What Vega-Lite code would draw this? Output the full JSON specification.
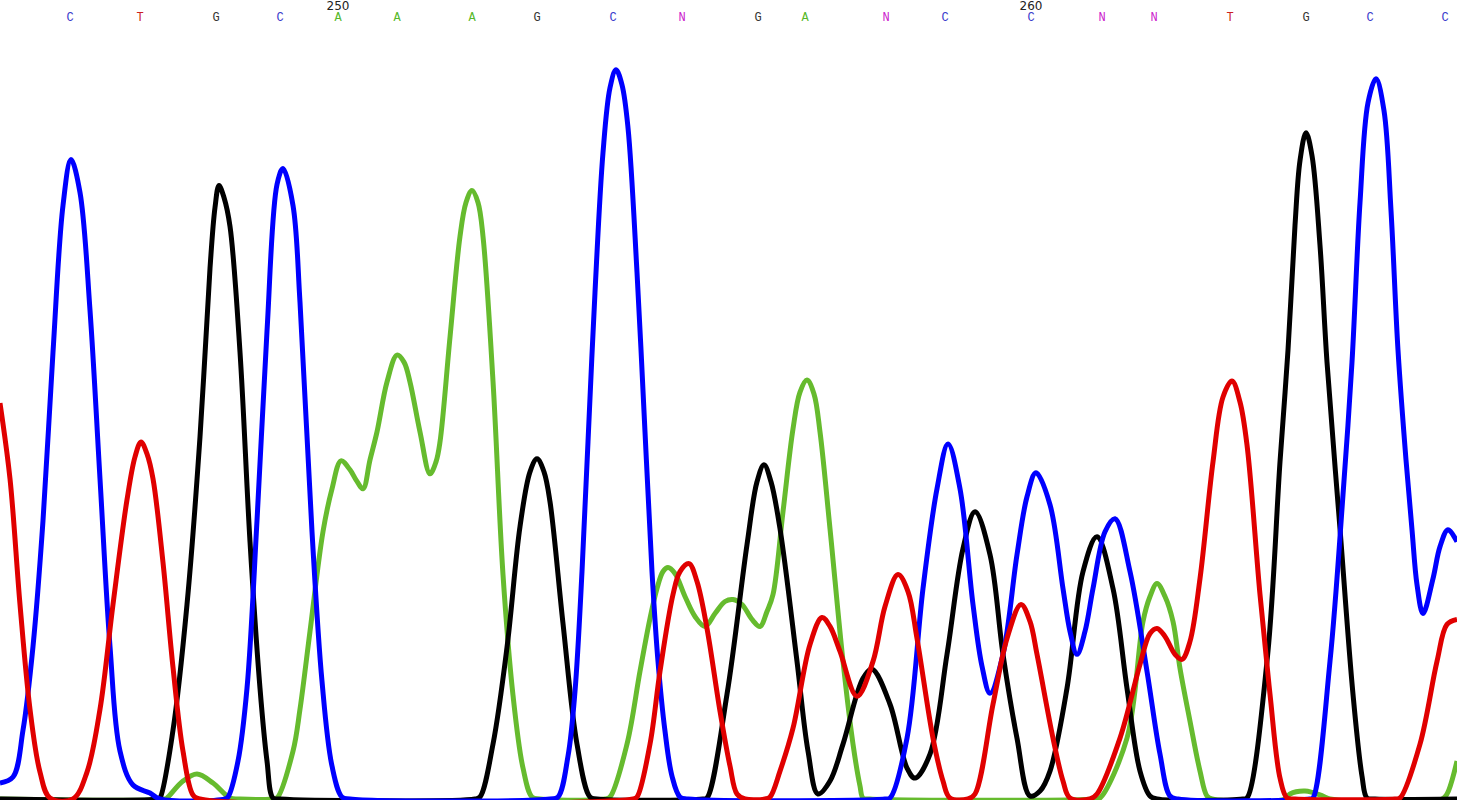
{
"$schema":"https://vega.github.io/schema/vega-lite/v6.json",
"width":1457,"height":800,
"autosize":{"type":"fit","contains":"padding"},
"padding":0,
"background":"white",
"config":{"view":{"stroke":null}},
"datasets":{
"traces":[
{"base":"A","pos":0,"signal":0},{"base":"A","pos":165,"signal":0},{"base":"A","pos":167,"signal":1},{"base":"A","pos":183,"signal":18},{"base":"A","pos":197,"signal":25},{"base":"A","pos":213,"signal":16},{"base":"A","pos":230,"signal":1},{"base":"A","pos":240,"signal":0},{"base":"A","pos":272,"signal":0},{"base":"A","pos":277,"signal":1},{"base":"A","pos":293,"signal":48},{"base":"A","pos":300,"signal":90},{"base":"A","pos":310,"signal":168},{"base":"A","pos":323,"signal":268},{"base":"A","pos":332,"signal":311},{"base":"A","pos":341,"signal":339},{"base":"A","pos":350,"signal":330},{"base":"A","pos":356,"signal":320},{"base":"A","pos":363,"signal":311},{"base":"A","pos":370,"signal":340},{"base":"A","pos":377,"signal":368},{"base":"A","pos":387,"signal":418},{"base":"A","pos":397,"signal":445},{"base":"A","pos":404,"signal":438},{"base":"A","pos":410,"signal":418},{"base":"A","pos":420,"signal":368},{"base":"A","pos":430,"signal":326},{"base":"A","pos":436,"signal":338},{"base":"A","pos":440,"signal":358},{"base":"A","pos":450,"signal":463},{"base":"A","pos":460,"signal":564},{"base":"A","pos":466,"signal":598},{"base":"A","pos":472,"signal":610},{"base":"A","pos":478,"signal":598},{"base":"A","pos":483,"signal":564},{"base":"A","pos":493,"signal":419},{"base":"A","pos":503,"signal":225},{"base":"A","pos":513,"signal":104},{"base":"A","pos":523,"signal":31},{"base":"A","pos":532,"signal":2},{"base":"A","pos":540,"signal":0},{"base":"A","pos":605,"signal":0},{"base":"A","pos":610,"signal":2},{"base":"A","pos":627,"signal":55},{"base":"A","pos":640,"signal":128},{"base":"A","pos":650,"signal":181},{"base":"A","pos":657,"signal":211},{"base":"A","pos":663,"signal":228},{"base":"A","pos":668,"signal":232},{"base":"A","pos":675,"signal":226},{"base":"A","pos":685,"signal":203},{"base":"A","pos":695,"signal":183},{"base":"A","pos":705,"signal":173},{"base":"A","pos":715,"signal":186},{"base":"A","pos":725,"signal":198},{"base":"A","pos":733,"signal":200},{"base":"A","pos":742,"signal":195},{"base":"A","pos":752,"signal":180},{"base":"A","pos":760,"signal":173},{"base":"A","pos":767,"signal":188},{"base":"A","pos":773,"signal":205},{"base":"A","pos":783,"signal":288},{"base":"A","pos":793,"signal":371},{"base":"A","pos":800,"signal":408},{"base":"A","pos":807,"signal":420},{"base":"A","pos":814,"signal":406},{"base":"A","pos":820,"signal":368},{"base":"A","pos":830,"signal":271},{"base":"A","pos":843,"signal":138},{"base":"A","pos":853,"signal":55},{"base":"A","pos":860,"signal":13},{"base":"A","pos":863,"signal":1},{"base":"A","pos":870,"signal":0},{"base":"A","pos":1095,"signal":0},{"base":"A","pos":1100,"signal":1},{"base":"A","pos":1127,"signal":61},{"base":"A","pos":1143,"signal":178},{"base":"A","pos":1150,"signal":203},{"base":"A","pos":1157,"signal":216},{"base":"A","pos":1165,"signal":203},{"base":"A","pos":1173,"signal":178},{"base":"A","pos":1180,"signal":131},{"base":"A","pos":1190,"signal":78},{"base":"A","pos":1200,"signal":28},{"base":"A","pos":1207,"signal":3},{"base":"A","pos":1212,"signal":0},{"base":"A","pos":1285,"signal":0},{"base":"A","pos":1290,"signal":5},{"base":"A","pos":1305,"signal":8},{"base":"A","pos":1323,"signal":3},{"base":"A","pos":1330,"signal":0},{"base":"A","pos":1442,"signal":0},{"base":"A","pos":1447,"signal":5},{"base":"A","pos":1457,"signal":38},
{"base":"G","pos":0,"signal":0},{"base":"G","pos":158,"signal":0},{"base":"G","pos":160,"signal":1},{"base":"G","pos":173,"signal":69},{"base":"G","pos":187,"signal":195},{"base":"G","pos":200,"signal":363},{"base":"G","pos":210,"signal":532},{"base":"G","pos":215,"signal":593},{"base":"G","pos":219,"signal":615},{"base":"G","pos":224,"signal":603},{"base":"G","pos":230,"signal":574},{"base":"G","pos":240,"signal":448},{"base":"G","pos":250,"signal":258},{"base":"G","pos":260,"signal":111},{"base":"G","pos":267,"signal":38},{"base":"G","pos":273,"signal":1},{"base":"G","pos":280,"signal":0},{"base":"G","pos":475,"signal":0},{"base":"G","pos":480,"signal":2},{"base":"G","pos":493,"signal":55},{"base":"G","pos":507,"signal":152},{"base":"G","pos":520,"signal":273},{"base":"G","pos":530,"signal":328},{"base":"G","pos":537,"signal":341},{"base":"G","pos":544,"signal":328},{"base":"G","pos":550,"signal":298},{"base":"G","pos":563,"signal":176},{"base":"G","pos":577,"signal":55},{"base":"G","pos":590,"signal":2},{"base":"G","pos":597,"signal":0},{"base":"G","pos":703,"signal":0},{"base":"G","pos":707,"signal":1},{"base":"G","pos":727,"signal":105},{"base":"G","pos":747,"signal":255},{"base":"G","pos":757,"signal":318},{"base":"G","pos":764,"signal":335},{"base":"G","pos":771,"signal":318},{"base":"G","pos":780,"signal":271},{"base":"G","pos":797,"signal":138},{"base":"G","pos":808,"signal":48},{"base":"G","pos":818,"signal":5},{"base":"G","pos":830,"signal":18},{"base":"G","pos":843,"signal":55},{"base":"G","pos":863,"signal":121},{"base":"G","pos":872,"signal":130},{"base":"G","pos":890,"signal":95},{"base":"G","pos":907,"signal":31},{"base":"G","pos":915,"signal":21},{"base":"G","pos":930,"signal":45},{"base":"G","pos":947,"signal":145},{"base":"G","pos":963,"signal":251},{"base":"G","pos":975,"signal":288},{"base":"G","pos":990,"signal":245},{"base":"G","pos":1003,"signal":145},{"base":"G","pos":1017,"signal":61},{"base":"G","pos":1030,"signal":3},{"base":"G","pos":1040,"signal":8},{"base":"G","pos":1050,"signal":28},{"base":"G","pos":1067,"signal":111},{"base":"G","pos":1083,"signal":228},{"base":"G","pos":1097,"signal":263},{"base":"G","pos":1113,"signal":211},{"base":"G","pos":1127,"signal":111},{"base":"G","pos":1140,"signal":28},{"base":"G","pos":1150,"signal":3},{"base":"G","pos":1157,"signal":0},{"base":"G","pos":1243,"signal":0},{"base":"G","pos":1247,"signal":1},{"base":"G","pos":1267,"signal":138},{"base":"G","pos":1280,"signal":338},{"base":"G","pos":1288,"signal":450},{"base":"G","pos":1295,"signal":575},{"base":"G","pos":1300,"signal":640},{"base":"G","pos":1306,"signal":668},{"base":"G","pos":1312,"signal":645},{"base":"G","pos":1320,"signal":555},{"base":"G","pos":1327,"signal":438},{"base":"G","pos":1340,"signal":271},{"base":"G","pos":1353,"signal":105},{"base":"G","pos":1362,"signal":23},{"base":"G","pos":1367,"signal":1},{"base":"G","pos":1375,"signal":0},{"base":"G","pos":1457,"signal":0},
{"base":"C","pos":0,"signal":16},{"base":"C","pos":13,"signal":22},{"base":"C","pos":23,"signal":69},{"base":"C","pos":33,"signal":153},{"base":"C","pos":43,"signal":279},{"base":"C","pos":53,"signal":448},{"base":"C","pos":63,"signal":595},{"base":"C","pos":71,"signal":641},{"base":"C","pos":80,"signal":608},{"base":"C","pos":90,"signal":490},{"base":"C","pos":100,"signal":321},{"base":"C","pos":110,"signal":153},{"base":"C","pos":120,"signal":48},{"base":"C","pos":133,"signal":14},{"base":"C","pos":150,"signal":6},{"base":"C","pos":160,"signal":0},{"base":"C","pos":225,"signal":0},{"base":"C","pos":228,"signal":2},{"base":"C","pos":238,"signal":38},{"base":"C","pos":247,"signal":111},{"base":"C","pos":257,"signal":279},{"base":"C","pos":267,"signal":469},{"base":"C","pos":277,"signal":616},{"base":"C","pos":283,"signal":632},{"base":"C","pos":293,"signal":595},{"base":"C","pos":300,"signal":498},{"base":"C","pos":312,"signal":268},{"base":"C","pos":322,"signal":118},{"base":"C","pos":332,"signal":33},{"base":"C","pos":342,"signal":2},{"base":"C","pos":350,"signal":0},{"base":"C","pos":550,"signal":0},{"base":"C","pos":558,"signal":2},{"base":"C","pos":568,"signal":43},{"base":"C","pos":575,"signal":108},{"base":"C","pos":582,"signal":228},{"base":"C","pos":588,"signal":358},{"base":"C","pos":595,"signal":508},{"base":"C","pos":603,"signal":648},{"base":"C","pos":610,"signal":713},{"base":"C","pos":616,"signal":731},{"base":"C","pos":622,"signal":716},{"base":"C","pos":628,"signal":673},{"base":"C","pos":637,"signal":528},{"base":"C","pos":645,"signal":368},{"base":"C","pos":652,"signal":228},{"base":"C","pos":658,"signal":138},{"base":"C","pos":665,"signal":68},{"base":"C","pos":672,"signal":23},{"base":"C","pos":680,"signal":2},{"base":"C","pos":688,"signal":0},{"base":"C","pos":885,"signal":0},{"base":"C","pos":890,"signal":1},{"base":"C","pos":907,"signal":61},{"base":"C","pos":923,"signal":211},{"base":"C","pos":937,"signal":311},{"base":"C","pos":948,"signal":356},{"base":"C","pos":960,"signal":311},{"base":"C","pos":973,"signal":195},{"base":"C","pos":982,"signal":133},{"base":"C","pos":990,"signal":106},{"base":"C","pos":1003,"signal":145},{"base":"C","pos":1017,"signal":245},{"base":"C","pos":1027,"signal":303},{"base":"C","pos":1036,"signal":327},{"base":"C","pos":1050,"signal":295},{"base":"C","pos":1063,"signal":211},{"base":"C","pos":1070,"signal":168},{"base":"C","pos":1077,"signal":145},{"base":"C","pos":1085,"signal":168},{"base":"C","pos":1093,"signal":211},{"base":"C","pos":1105,"signal":268},{"base":"C","pos":1115,"signal":281},{"base":"C","pos":1130,"signal":228},{"base":"C","pos":1147,"signal":128},{"base":"C","pos":1160,"signal":45},{"base":"C","pos":1170,"signal":3},{"base":"C","pos":1178,"signal":0},{"base":"C","pos":1310,"signal":0},{"base":"C","pos":1313,"signal":1},{"base":"C","pos":1330,"signal":138},{"base":"C","pos":1343,"signal":305},{"base":"C","pos":1352,"signal":438},{"base":"C","pos":1360,"signal":598},{"base":"C","pos":1368,"signal":698},{"base":"C","pos":1376,"signal":722},{"base":"C","pos":1384,"signal":690},{"base":"C","pos":1391,"signal":590},{"base":"C","pos":1398,"signal":450},{"base":"C","pos":1406,"signal":340},{"base":"C","pos":1412,"signal":270},{"base":"C","pos":1417,"signal":215},{"base":"C","pos":1423,"signal":186},{"base":"C","pos":1433,"signal":221},{"base":"C","pos":1440,"signal":253},{"base":"C","pos":1448,"signal":270},{"base":"C","pos":1457,"signal":258},
{"base":"T","pos":0,"signal":397},{"base":"T","pos":10,"signal":321},{"base":"T","pos":20,"signal":195},{"base":"T","pos":30,"signal":90},{"base":"T","pos":40,"signal":27},{"base":"T","pos":50,"signal":1},{"base":"T","pos":73,"signal":0},{"base":"T","pos":87,"signal":27},{"base":"T","pos":100,"signal":90},{"base":"T","pos":113,"signal":195},{"base":"T","pos":127,"signal":300},{"base":"T","pos":135,"signal":343},{"base":"T","pos":141,"signal":358},{"base":"T","pos":147,"signal":346},{"base":"T","pos":153,"signal":321},{"base":"T","pos":163,"signal":237},{"base":"T","pos":173,"signal":132},{"base":"T","pos":183,"signal":48},{"base":"T","pos":193,"signal":4},{"base":"T","pos":200,"signal":0},{"base":"T","pos":633,"signal":0},{"base":"T","pos":637,"signal":2},{"base":"T","pos":650,"signal":55},{"base":"T","pos":660,"signal":128},{"base":"T","pos":673,"signal":205},{"base":"T","pos":680,"signal":228},{"base":"T","pos":689,"signal":236},{"base":"T","pos":697,"signal":218},{"base":"T","pos":707,"signal":171},{"base":"T","pos":720,"signal":88},{"base":"T","pos":730,"signal":33},{"base":"T","pos":737,"signal":5},{"base":"T","pos":745,"signal":0},{"base":"T","pos":765,"signal":0},{"base":"T","pos":770,"signal":2},{"base":"T","pos":780,"signal":28},{"base":"T","pos":793,"signal":71},{"base":"T","pos":810,"signal":155},{"base":"T","pos":822,"signal":182},{"base":"T","pos":830,"signal":173},{"base":"T","pos":840,"signal":148},{"base":"T","pos":857,"signal":103},{"base":"T","pos":873,"signal":138},{"base":"T","pos":885,"signal":193},{"base":"T","pos":898,"signal":225},{"base":"T","pos":908,"signal":208},{"base":"T","pos":917,"signal":161},{"base":"T","pos":933,"signal":61},{"base":"T","pos":943,"signal":18},{"base":"T","pos":950,"signal":1},{"base":"T","pos":968,"signal":0},{"base":"T","pos":975,"signal":5},{"base":"T","pos":993,"signal":95},{"base":"T","pos":1007,"signal":161},{"base":"T","pos":1021,"signal":195},{"base":"T","pos":1030,"signal":178},{"base":"T","pos":1037,"signal":145},{"base":"T","pos":1053,"signal":61},{"base":"T","pos":1063,"signal":18},{"base":"T","pos":1070,"signal":1},{"base":"T","pos":1090,"signal":0},{"base":"T","pos":1097,"signal":5},{"base":"T","pos":1120,"signal":61},{"base":"T","pos":1140,"signal":135},{"base":"T","pos":1150,"signal":166},{"base":"T","pos":1157,"signal":171},{"base":"T","pos":1165,"signal":163},{"base":"T","pos":1175,"signal":145},{"base":"T","pos":1182,"signal":140},{"base":"T","pos":1190,"signal":158},{"base":"T","pos":1200,"signal":221},{"base":"T","pos":1213,"signal":338},{"base":"T","pos":1223,"signal":403},{"base":"T","pos":1232,"signal":419},{"base":"T","pos":1240,"signal":398},{"base":"T","pos":1247,"signal":355},{"base":"T","pos":1260,"signal":205},{"base":"T","pos":1270,"signal":105},{"base":"T","pos":1280,"signal":21},{"base":"T","pos":1287,"signal":1},{"base":"T","pos":1295,"signal":0},{"base":"T","pos":1395,"signal":0},{"base":"T","pos":1400,"signal":1},{"base":"T","pos":1420,"signal":55},{"base":"T","pos":1437,"signal":138},{"base":"T","pos":1447,"signal":175},{"base":"T","pos":1457,"signal":180}
],
"calls":[{"pos":70,"base":"C"},{"pos":140,"base":"T"},{"pos":216,"base":"G"},{"pos":280,"base":"C"},{"pos":338,"base":"A"},{"pos":397,"base":"A"},{"pos":472,"base":"A"},{"pos":537,"base":"G"},{"pos":613,"base":"C"},{"pos":682,"base":"N"},{"pos":758,"base":"G"},{"pos":805,"base":"A"},{"pos":886,"base":"N"},{"pos":945,"base":"C"},{"pos":1031,"base":"C"},{"pos":1102,"base":"N"},{"pos":1154,"base":"N"},{"pos":1230,"base":"T"},{"pos":1306,"base":"G"},{"pos":1370,"base":"C"},{"pos":1445,"base":"C"}],
"ticks":[{"pos":338,"label":"250"},{"pos":1031,"label":"260"}]
},
"layer":[
{"data":{"name":"traces"},"mark":{"type":"line","interpolate":"catmull-rom","strokeWidth":5,"clip":true},
 "encoding":{
  "x":{"field":"pos","type":"quantitative","scale":{"domain":[0,1457],"nice":false,"zero":false},"axis":null},
  "y":{"field":"signal","type":"quantitative","scale":{"domain":[-1,799],"nice":false,"zero":false},"axis":null},
  "color":{"field":"base","type":"nominal","scale":{"domain":["A","G","C","T"],"range":["#66BB2E","#000000","#0000FF","#E00000"]},"legend":null},
  "detail":{"field":"base","type":"nominal"}}},
{"data":{"name":"calls"},"mark":{"type":"text","font":"Liberation Mono","fontSize":12,"baseline":"middle","align":"center"},
 "encoding":{
  "x":{"field":"pos","type":"quantitative"},
  "y":{"datum":784},
  "text":{"field":"base","type":"nominal"},
  "color":{"field":"base","type":"nominal","scale":{"domain":["A","C","G","T","N"],"range":["#55B82A","#3A3ACC","#333333","#CC2020","#CC22CC"]},"legend":null}}},
{"data":{"name":"ticks"},"mark":{"type":"text","font":"DejaVu Sans","fontSize":12,"baseline":"middle","align":"center","color":"#222222"},
 "encoding":{
  "x":{"field":"pos","type":"quantitative"},
  "y":{"datum":795},
  "text":{"field":"label","type":"nominal"}}}
],
"resolve":{"scale":{"color":"independent"}}
}
